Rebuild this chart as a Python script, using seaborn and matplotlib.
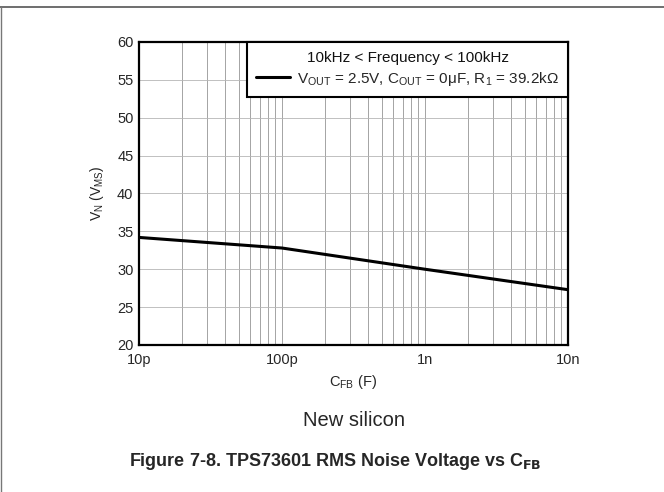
import numpy as np
import pandas as pd
from matplotlib import pyplot as plt
from matplotlib.lines import Line2D
from matplotlib.ticker import LogLocator, NullFormatter, FixedLocator
import seaborn as sns

sns.set_style("white")
plt.rcParams["font.family"] = ["Liberation Sans", "DejaVu Sans"]
plt.rcParams["mathtext.fontset"] = "custom"
plt.rcParams["mathtext.rm"] = "Liberation Sans"
plt.rcParams["mathtext.it"] = "Liberation Sans:italic"

# C_FB (F) vs RMS noise (uV)
cfb = [10e-12, 100e-12, 1e-9, 10e-9]
vn = [34.2, 32.8, 30.0, 27.3]
series_label = r"V$_{\rm OUT}$ = 2.5V, C$_{\rm OUT}$ = 0μF, R$_{\rm 1}$ = 39.2kΩ"
legend_title = "10kHz < Frequency < 100kHz"
x_ticks = [10e-12, 100e-12, 1e-9, 10e-9]
x_ticklabels = ["10p", "100p", "1n", "10n"]
y_ticks = [20, 25, 30, 35, 40, 45, 50, 55, 60]

df = pd.DataFrame({"cfb": cfb, "vn": vn, "series": series_label})

fig = plt.figure(figsize=(6.64, 4.92), dpi=100)
ax = fig.add_axes([0.2093, 0.2988, 0.6461, 0.6159])

sns.lineplot(data=df, x="cfb", y="vn", hue="series", palette=["black"],
             linewidth=2.2, ax=ax)

ax.set_xscale("log")
ax.set_xlim(10e-12, 10e-9)
ax.set_ylim(20, 60)
ax.xaxis.set_major_locator(FixedLocator(x_ticks))
ax.set_xticklabels(x_ticklabels)
ax.xaxis.set_minor_locator(LogLocator(base=10, subs=np.arange(2, 10)))
ax.xaxis.set_minor_formatter(NullFormatter())
ax.set_yticks(y_ticks)
ax.grid(True, which="both", axis="x", color="#959595", linewidth=0.6)
ax.grid(True, which="major", axis="y", color="#b5b5b5", linewidth=0.6)
ax.tick_params(axis="both", which="both", length=0, labelsize=10.5, pad=4)
ax.tick_params(axis="x", pad=6)
for s in ax.spines.values():
    s.set_color("black")
    s.set_linewidth(1.6)

ax.set_xlabel(r"C$_{\rm FB}$ (F)", fontsize=10.5, labelpad=4)
ax.set_ylabel(r"V$_{\rm N}$ (V$_{\rm MS}$)", fontsize=10, labelpad=8, color="#222222")

leg = ax.legend(title=legend_title, loc="upper right", borderaxespad=0,
                fontsize=11, title_fontsize=11, fancybox=False, framealpha=1,
                handlelength=2.2, handletextpad=0.45, borderpad=0.6,
                labelspacing=0.3)
leg.get_frame().set_edgecolor("black")
leg.get_frame().set_linewidth(1.5)
leg.get_title().set_color("#111111")

fig.text(0.533, 0.146, "New silicon", ha="center", va="center", fontsize=14.5)
fig.text(0.505, 0.061, r"Figure 7-8. TPS73601 RMS Noise Voltage vs C$_{\mathbf{FB}}$",
         ha="center", va="center", fontsize=13, fontweight="bold")

# page frame lines
fig.add_artist(Line2D([0, 1], [0.986, 0.986], transform=fig.transFigure,
                      color="#555555", linewidth=1.2))
fig.add_artist(Line2D([0.0015, 0.0015], [0.0, 0.986], transform=fig.transFigure,
                      color="#777777", linewidth=1.0))

fig.savefig("out.png", dpi=100)
